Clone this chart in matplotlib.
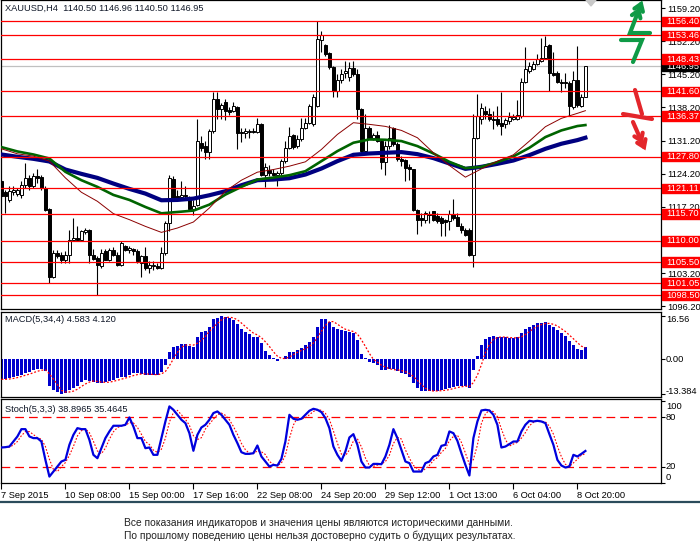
import matplotlib
matplotlib.use("Agg")
import matplotlib.pyplot as plt
import matplotlib.transforms as mtransforms
from matplotlib.lines import Line2D
from matplotlib.patches import Rectangle, Polygon
import numpy as np
import pandas as pd

plt.rcParams['font.family'] = ['Liberation Sans', 'DejaVu Sans']

# XAUUSD H4 candles, 147 bars
opens = [1122.61, 1120.28, 1118.72, 1120.28, 1119.99, 1119.78, 1121.90, 1123.32, 1121.55, 1123.67,
         1123.50, 1121.20, 1116.81, 1102.46, 1107.41, 1107.06, 1106.00, 1107.06, 1110.10, 1110.59,
         1110.24, 1111.79, 1112.36, 1106.92, 1106.35, 1104.58, 1107.76, 1106.00, 1108.12, 1107.06,
         1104.93, 1108.82, 1107.97, 1108.26, 1107.76, 1105.29, 1106.70, 1104.23,
         1104.58, 1104.72, 1104.23, 1107.41, 1113.77, 1123.10, 1119.43, 1119.29, 1119.78, 1119.22,
         1116.74, 1117.66, 1130.74, 1130.03, 1128.76, 1133.22, 1140.07, 1137.81, 1139.37, 1137.67,
         1137.46, 1138.37, 1133.00, 1132.86, 1133.00, 1133.29, 1133.00, 1134.77, 1123.88, 1124.94,
         1124.38, 1124.02, 1124.38, 1126.85, 1129.68, 1132.30, 1130.03,
         1131.45, 1133.92, 1134.98, 1134.63, 1138.52, 1152.52, 1151.38, 1149.69, 1146.65, 1141.70,
         1143.96, 1145.45, 1144.74, 1146.44, 1145.23, 1137.95, 1128.97, 1133.92, 1131.80, 1132.30,
         1131.09, 1126.64, 1130.03, 1133.92, 1130.53, 1127.21, 1126.99, 1125.65, 1125.09, 1116.60,
         1114.83, 1114.48, 1115.75, 1116.25, 1115.33, 1114.83, 1114.34, 1114.13,
         1115.68, 1115.04, 1113.21, 1112.36, 1112.36, 1107.06, 1131.80, 1135.83, 1137.46, 1136.75,
         1135.83, 1135.69, 1134.98, 1134.63, 1135.34, 1135.83, 1135.83, 1136.40, 1143.61, 1145.94,
         1146.29, 1147.35, 1148.06, 1148.56, 1151.38, 1145.45, 1145.45, 1143.61, 1143.61, 1143.33,
         1138.37, 1143.96, 1138.52, 1140.50]
highs = [1122.96, 1120.84, 1121.55, 1121.69, 1121.20, 1122.61, 1126.36, 1124.02, 1124.38, 1125.09,
         1123.90, 1121.50, 1116.95, 1108.12, 1107.97, 1107.55, 1107.76, 1112.36, 1114.83, 1113.07,
         1112.36, 1112.71, 1112.50, 1108.26, 1106.70, 1108.26, 1108.26, 1108.47, 1108.68, 1107.55,
         1109.89, 1109.18, 1108.82, 1108.47, 1108.26, 1107.06, 1108.68, 1105.64,
         1105.64, 1105.29, 1108.68, 1114.13, 1124.02, 1123.67, 1120.84, 1122.61, 1121.55, 1119.57,
         1118.72, 1135.69, 1132.15, 1131.09, 1133.57, 1141.49, 1141.49, 1139.22, 1139.93, 1138.37,
         1139.37, 1138.52, 1133.92, 1133.92, 1133.71, 1133.92, 1136.04, 1134.98, 1126.50, 1125.93,
         1125.09, 1124.73, 1127.21, 1131.09, 1134.13, 1132.51, 1132.30,
         1136.04, 1136.04, 1138.87, 1140.99, 1156.40, 1154.42, 1151.60, 1149.83, 1147.00, 1145.23,
         1146.29, 1148.06, 1147.71, 1148.06, 1146.29, 1138.16, 1136.75, 1134.28, 1132.86, 1133.22,
         1131.45, 1131.09, 1134.42, 1134.13, 1130.88, 1127.91, 1127.21, 1126.15, 1125.23, 1116.74,
         1115.89, 1116.25, 1116.25, 1116.39, 1115.89, 1115.19, 1114.62, 1116.60,
         1118.86, 1115.89, 1113.77, 1112.71, 1112.71, 1136.75, 1140.99, 1139.22, 1138.52, 1138.16,
         1137.46, 1138.52, 1141.49, 1136.04, 1137.25, 1136.75, 1139.79, 1144.53, 1150.89, 1147.71,
         1148.06, 1149.48, 1152.87, 1153.36, 1151.60, 1149.83, 1145.94, 1144.17, 1145.59, 1143.82,
         1145.94, 1151.24, 1140.99, 1146.96]
lows = [1119.07, 1115.89, 1118.15, 1119.78, 1119.43, 1119.07, 1121.20, 1120.84, 1121.20, 1122.26,
        1120.84, 1116.25, 1101.05, 1102.11, 1106.35, 1105.29, 1105.29, 1105.29, 1109.89, 1109.89,
        1109.89, 1111.51, 1105.29, 1105.85, 1098.57, 1104.23, 1105.85, 1105.64, 1106.70, 1104.72,
        1104.72, 1107.76, 1107.41, 1107.06, 1105.29, 1102.46, 1103.87, 1103.17,
        1103.87, 1104.02, 1104.02, 1107.06, 1112.00, 1118.72, 1118.72, 1119.07, 1118.72, 1116.25,
        1115.54, 1117.31, 1128.97, 1127.35, 1127.35, 1132.72, 1135.69, 1135.69, 1135.55, 1136.54,
        1137.25, 1129.33, 1130.88, 1131.80, 1131.80, 1132.72, 1132.72, 1123.67, 1121.41, 1123.67,
        1123.67, 1121.55, 1123.67, 1126.50, 1129.33, 1129.33, 1129.68,
        1131.09, 1133.57, 1134.63, 1134.28, 1138.37, 1149.97, 1149.12, 1146.29, 1140.49, 1140.49,
        1143.47, 1144.53, 1143.82, 1144.88, 1135.69, 1128.62, 1128.62, 1131.45, 1131.31, 1130.88,
        1125.23, 1124.02, 1129.33, 1130.03, 1126.85, 1125.79, 1122.61, 1122.96, 1116.25, 1111.51,
        1113.07, 1113.77, 1113.77, 1114.13, 1113.77, 1110.94, 1110.94, 1112.22,
        1114.48, 1113.07, 1111.65, 1110.94, 1106.85, 1104.44, 1131.45, 1134.63, 1135.69, 1135.34,
        1133.57, 1134.28, 1132.30, 1133.92, 1134.63, 1135.55, 1135.55, 1136.04, 1143.33, 1145.59,
        1146.15, 1147.14, 1147.71, 1148.42, 1141.70, 1144.88, 1143.33, 1141.49, 1142.41, 1136.40,
        1137.95, 1138.37, 1138.37, 1140.50]
closes = [1119.43, 1119.43, 1120.49, 1120.84, 1120.84, 1121.90, 1123.32, 1121.55, 1123.67, 1123.20,
          1121.20, 1116.60, 1102.46, 1107.41, 1106.85, 1106.00, 1107.06, 1110.24, 1110.59, 1110.24,
          1112.00, 1112.36, 1107.06, 1106.14, 1104.93, 1107.41, 1106.00, 1108.12, 1107.06, 1104.93,
          1109.53, 1108.12, 1108.47, 1107.76, 1105.64, 1106.70, 1104.23, 1104.93,
          1104.93, 1104.23, 1107.41, 1113.77, 1123.32, 1119.07, 1119.07, 1119.78, 1119.43, 1116.74,
          1117.45, 1131.09, 1129.68, 1128.76, 1133.22, 1140.07, 1137.81, 1138.73, 1137.46, 1137.25,
          1138.52, 1132.72, 1132.86, 1133.22, 1133.29, 1133.00, 1134.77, 1123.88, 1125.65, 1124.24,
          1123.88, 1124.38, 1126.85, 1129.68, 1132.15, 1129.89, 1131.59,
          1133.92, 1134.98, 1138.52, 1140.49, 1152.66, 1153.50, 1149.48, 1146.65, 1141.70, 1143.96,
          1145.37, 1145.94, 1146.44, 1145.23, 1137.95, 1128.97, 1133.92, 1131.80, 1132.30, 1131.09,
          1126.64, 1130.03, 1131.80, 1130.39, 1127.21, 1126.85, 1125.44, 1125.09, 1116.60, 1114.48,
          1114.34, 1115.89, 1115.54, 1114.48, 1114.13, 1113.77, 1113.91, 1115.75,
          1114.83, 1113.21, 1112.22, 1111.30, 1107.06, 1131.80, 1136.40, 1138.16, 1136.75, 1135.83,
          1135.55, 1134.63, 1134.28, 1135.48, 1136.26, 1136.26, 1136.54, 1143.61, 1146.29, 1147.00,
          1147.35, 1148.42, 1148.56, 1151.24, 1145.59, 1145.02, 1143.61, 1143.33, 1143.33, 1138.52,
          1143.96, 1138.66, 1140.49, 1146.95]

# moving averages, read every 4th bar
ma_bars = list(range(0, 145, 4)) + [146]
ma_fast = [1129.46, 1128.40, 1127.91, 1126.85, 1123.31, 1120.27, 1118.36, 1115.75, 1114.48, 1113.06,
           1111.79, 1112.71, 1113.98, 1116.95, 1120.49, 1122.82, 1124.52, 1125.08, 1125.79,
           1126.71, 1129.32, 1132.50, 1134.98, 1134.63, 1134.20, 1133.35, 1131.80, 1128.62, 1125.93,
           1123.46, 1125.22, 1126.85, 1128.19, 1131.09, 1134.13, 1135.90, 1136.96, 1137.52]
ma_mid = [1129.82, 1128.90, 1128.26, 1127.41, 1124.59, 1122.82, 1121.41, 1119.71, 1118.65, 1117.16,
          1115.82, 1116.10, 1116.39, 1117.66, 1119.78, 1121.41, 1122.96, 1123.38, 1123.88,
          1124.73, 1126.85, 1128.97, 1130.74, 1131.44, 1131.37, 1131.09, 1130.03, 1128.47, 1126.71,
          1125.36, 1125.65, 1126.64, 1127.84, 1129.68, 1131.94, 1133.35, 1134.27, 1134.48]
ma_slow = [1128.26, 1127.77, 1127.34, 1126.78, 1125.08, 1124.16, 1123.31, 1122.11, 1120.98, 1119.99,
           1118.58, 1118.65, 1118.93, 1119.64, 1120.49, 1121.76, 1122.82, 1122.96, 1123.24,
           1124.02, 1125.29, 1126.85, 1128.19, 1128.47, 1128.62, 1128.76, 1128.33, 1127.49, 1126.35,
           1125.22, 1125.65, 1126.28, 1126.99, 1128.12, 1129.46, 1130.53, 1131.30, 1131.80]

levels = [1156.40, 1153.46, 1148.43, 1141.60, 1136.37, 1127.80, 1121.11, 1115.70, 1110.00,
          1105.50, 1101.05, 1098.50]
price_ticks = [1096.20, 1103.20, 1110.20, 1117.20, 1124.20, 1131.20, 1138.20, 1145.20, 1152.20, 1159.20]
price_tick_labels = ['1096.20', '1103.20', '', '1117.20', '1124.20', '1131.20', '1138.20',
                     '1145.20', '1152.20', '1159.20']
last_price = 1146.95

macd = [-7.87, -7.87, -7.48, -6.84, -6.58, -6.19, -5.55, -5.16, -4.26, -4.00,
        -4.00, -4.52, -10.45, -12.00, -12.65, -13.38, -13.03, -12.00, -11.35, -10.45,
        -8.77, -8.13, -8.39, -8.77, -9.42, -9.16, -8.77, -8.52, -8.13, -7.48,
        -7.10, -6.84, -6.19, -5.55, -5.55, -5.81, -6.06, -6.06, -6.06, -6.06,
        -4.90, -2.32, 2.84, 4.52, 5.16, 5.81, 5.81, 5.16, 4.77, 8.65,
        10.58, 10.97, 12.52, 15.35, 16.00, 16.56, 16.39, 15.74, 15.10, 13.42,
        11.48, 10.32, 9.68, 8.65, 8.65, 6.06, 3.23, 1.55, 0.39, -0.77,
        -0.10, 1.16, 2.84, 2.84, 3.48, 4.13, 5.42, 6.71, 8.39, 12.52,
        15.48, 15.48, 14.45, 12.52, 11.48, 11.23, 10.84, 10.58,
        9.94, 7.35, 1.94, 0.26, -1.03, -1.68, -2.45, -4.26, -4.26, -4.00,
        -4.00, -4.52, -5.29, -5.81, -6.84, -9.16, -11.35, -12.39, -12.39, -12.39,
        -12.39, -12.26, -12.00, -11.74, -11.35, -10.71, -10.45, -10.45, -10.45, -11.35,
        -4.26, 1.16, 5.42, 7.61, 8.39, 8.90, 8.39, 8.39, 8.39, 8.00,
        8.00, 8.39, 9.94, 11.48, 12.52, 13.16, 13.81, 13.81, 14.32, 13.16,
        12.52, 11.23, 9.94, 8.90, 7.00, 5.50, 4.00, 3.40, 4.58]

stoch_k = [43.1, 43.5, 44.3, 50.4, 56.5, 65.4, 65.4, 56.5, 54.5, 54.5,
           50.4, 28.1, 7.8, 13.9, 20.0, 26.1, 28.1, 46.4, 58.5, 66.6,
           65.4, 65.4, 52.4, 34.2, 30.1, 42.3, 54.5, 62.6, 69.5, 69.5,
           69.5, 70.7, 79.6, 68.6, 54.5, 54.5, 42.3, 43.1, 34.2, 34.2,
           54.5, 74.7, 93.0, 88.9, 82.8, 76.8, 72.7, 60.5, 39.1, 58.5,
           67.4, 70.7, 76.8, 84.9, 86.9, 82.8, 76.8, 70.7, 58.5, 48.4,
           37.4, 35.4, 35.4, 36.2, 45.5, 32.2, 26.1, 20.0, 22.0, 21.2,
           29.3, 50.4, 82.8, 78.0, 76.8, 78.0, 82.8, 87.7, 90.1, 88.9,
           86.1, 78.8, 66.6, 44.3, 34.2, 26.9, 38.2, 55.3,
           59.3, 46.4, 26.1, 18.8, 18.8, 23.2, 23.2, 22.8, 32.2, 46.4,
           65.4, 54.5, 40.3, 26.1, 24.1, 13.9, 13.9, 13.9, 24.1, 26.1,
           32.2, 34.2, 45.1, 46.4, 62.6, 60.5, 51.2, 36.2, 22.0, 9.1,
           54.5, 74.7, 88.1, 88.9, 88.1, 82.8, 70.7, 43.1, 44.3, 47.2,
           50.4, 50.4, 62.6, 70.7, 75.5, 74.7, 75.5, 74.7, 72.7, 59.3,
           46.4, 28.1, 21.2, 18.8, 20.0, 34.2, 32.2, 35.4, 38.9]

date_ticks = [0, 16, 32, 48, 64, 80, 96, 112, 128, 144]
date_labels = ['7 Sep 2015', '10 Sep 08:00', '15 Sep 00:00', '17 Sep 16:00', '22 Sep 08:00',
               '24 Sep 20:00', '29 Sep 12:00', '1 Oct 13:00', '6 Oct 04:00', '8 Oct 20:00']

title_main = 'XAUUSD,H4  1140.50 1146.96 1140.50 1146.95'
title_macd = 'MACD(5,34,4) 4.583 4.120'
title_stoch = 'Stoch(5,3,3) 38.8965 35.4645'
footer = ['Все показания индикаторов и значения цены являются историческими данными.',
          'По прошлому поведению цены нельзя достоверно судить о будущих результатах.']

W, H = 700, 552
fig = plt.figure(figsize=(W / 100, H / 100), dpi=100)
fig.patch.set_facecolor('white')


def px_axes(left, top, right, bottom):
    return fig.add_axes([left / W, 1 - bottom / H, (right - left) / W, (bottom - top) / H])


ax = px_axes(1, 0, 661, 309)
ax2 = px_axes(1, 312, 661, 397)
ax3 = px_axes(1, 399, 661, 483)

fs = 6.7
x = np.arange(len(closes))
o = np.array(opens)
c = np.array(closes)
up = c >= o

# main price panel
ax.axhline(last_price, color='#c0c0c0', lw=0.9, zorder=1)
ax.vlines(x, lows, highs, color='black', lw=0.8, zorder=2)
lo = np.minimum(o, c)
hgt = np.maximum(np.abs(c - o), 0.12)
ax.bar(x[up], hgt[up], bottom=lo[up], width=0.62, color='white', edgecolor='black', lw=0.7, zorder=3)
ax.bar(x[~up], hgt[~up], bottom=lo[~up], width=0.62, color='black', edgecolor='black', lw=0.7, zorder=3)
ax.plot(ma_bars, ma_slow, color='#000080', lw=3.0, zorder=4)
ax.plot(ma_bars, ma_mid, color='#006400', lw=1.9, zorder=4)
ax.plot(ma_bars, ma_fast, color='#8b0000', lw=0.7, zorder=4)
for lv in levels:
    ax.axhline(lv, color='red', lw=0.9, zorder=5)
ax.set_ylim(1095.59, 1160.92)
ax.set_yticks(price_ticks)
ax.set_yticklabels(price_tick_labels)
ax.text(4 / 660, 1 - 8 / 309, title_main, transform=ax.transAxes, fontsize=fs, color='#101828', va='center')

# labels in boxes on the price scale
bt = mtransforms.blended_transform_factory(ax.transAxes, ax.transData)
ax.add_patch(Rectangle((1.002, last_price - 1.0), 0.06, 2.0, transform=bt, color='black', clip_on=False, zorder=20))
ax.text(1.0076, last_price, '%.2f' % last_price, transform=bt, color='white', fontsize=fs, va='center', zorder=21)
for lv in levels:
    ax.add_patch(Rectangle((1.002, lv - 1.0), 0.06, 2.0, transform=bt, color='#ff0000', clip_on=False, zorder=22))
    ax.text(1.0076, lv, '%.2f' % lv, transform=bt, color='white', fontsize=fs, va='center', zorder=23)

# MACD panel
ax2.bar(x, macd, width=0.75, color='#0000cd', zorder=2)
ax2.plot(x, pd.Series(macd).rolling(4, min_periods=1).mean(), color='red', lw=0.9, ls=(0, (1.5, 1.5)), zorder=3)
ax2.set_ylim(-14.71, 18.2)
ax2.set_yticks([-13.384, 0, 16.56])
ax2.set_yticklabels([])
ax2.text(4 / 660, 1 - 8 / 85, title_macd, transform=ax2.transAxes, fontsize=fs, color='#101828', va='center')

# Stochastic panel
ax3.axhline(80, color='red', lw=0.9, ls=(0, (7, 4)), zorder=1)
ax3.axhline(20, color='red', lw=0.9, ls=(0, (7, 4)), zorder=1)
ax3.plot(x, pd.Series(stoch_k).rolling(3, min_periods=1).mean(), color='red', lw=0.8, ls=(0, (1.5, 1.5)), zorder=2)
ax3.plot(x, stoch_k, color='#0000dd', lw=1.6, zorder=3)
ax3.set_ylim(0, 102)
ax3.set_yticks([0, 20, 80, 100])
ax3.set_yticklabels([])
ax3.text(4 / 660, 1 - 10 / 84, title_stoch, transform=ax3.transAxes, fontsize=fs, color='#101828', va='center')


def right_label(a, y, s, dy_px=0):
    tr = mtransforms.blended_transform_factory(a.transAxes, a.transData) + \
        mtransforms.ScaledTranslation(0, dy_px / 100, fig.dpi_scale_trans)
    a.text(1.0076, y, s, transform=tr, fontsize=fs, va='center', color='black', clip_on=False)


right_label(ax2, 16.56, '16.56', -3)
right_label(ax2, 0, '0.00')
right_label(ax2, -13.384, '-13.384', 2.5)
right_label(ax3, 100, '100', -6)
right_label(ax3, 80, '80')
right_label(ax3, 20, '20')
right_label(ax3, 0, '0', 6)

for a in (ax, ax2, ax3):
    a.set_xlim(-0.1, 164.9)
    a.set_facecolor('white')
    a.yaxis.tick_right()
    a.tick_params(axis='y', direction='out', length=3, width=0.8, labelsize=fs, pad=1.5)
    a.tick_params(axis='x', bottom=False, labelbottom=False)
    for sp in a.spines.values():
        sp.set_linewidth(0.9)
        sp.set_color('black')

ax3.tick_params(axis='x', bottom=True, labelbottom=True, direction='out', length=4, width=0.8,
                labelsize=fs, pad=2)
ax3.set_xticks(date_ticks)
ax3.set_xticklabels(date_labels)
for lab in ax3.get_xticklabels():
    lab.set_ha('left')

# separator line and disclaimer
fig.add_artist(Line2D([0, 1], [1 - 502 / H] * 2, transform=fig.transFigure, color='#2b4b5b', lw=1.6))
fig.text(124 / W, 1 - 523 / H, footer[0], fontsize=7.4, color='#222222', va='center')
fig.text(124 / W, 1 - 536 / H, footer[1], fontsize=7.4, color='#222222', va='center')

# chart shift marker
fig.add_artist(Polygon([(586 / W, 1.0), (596 / W, 1.0), (591 / W, 1 - 6 / H)], closed=True,
                       transform=fig.transFigure, color='#c8c8c8'))


# hand-drawn arrows on the right side
def stroke(pts, color):
    xs = [p[0] / W for p in pts]
    ys = [1 - p[1] / H for p in pts]
    fig.add_artist(Line2D(xs, ys, transform=fig.transFigure, color=color, lw=3.0,
                          solid_capstyle='round', solid_joinstyle='miter'))


def chevron(tip, back, color, size=8):
    d = np.array(tip, float) - np.array(back, float)
    d /= np.hypot(*d)
    for k in (0, 7):
        t = np.array(tip, float) - k * d
        arms = []
        for ang in (0.6, -0.6):
            r = np.array([[np.cos(ang), -np.sin(ang)], [np.sin(ang), np.cos(ang)]])
            arms.append(t - size * r.dot(d))
        stroke([arms[0], t, arms[1]], color)


green = '#0f9a46'
red = '#e3262b'
stroke([(621, 40), (642, 40), (633, 62)], green)
stroke([(650, 33), (630, 33), (641, 4)], green)
chevron((641, 4), (630, 33), green)
stroke([(635, 90), (642, 114)], red)
stroke([(623, 114), (652, 119)], red)
stroke([(633, 122), (644, 147)], red)
chevron((644, 147), (633, 122), red)

fig.savefig('out.png', dpi=100, facecolor='white')
